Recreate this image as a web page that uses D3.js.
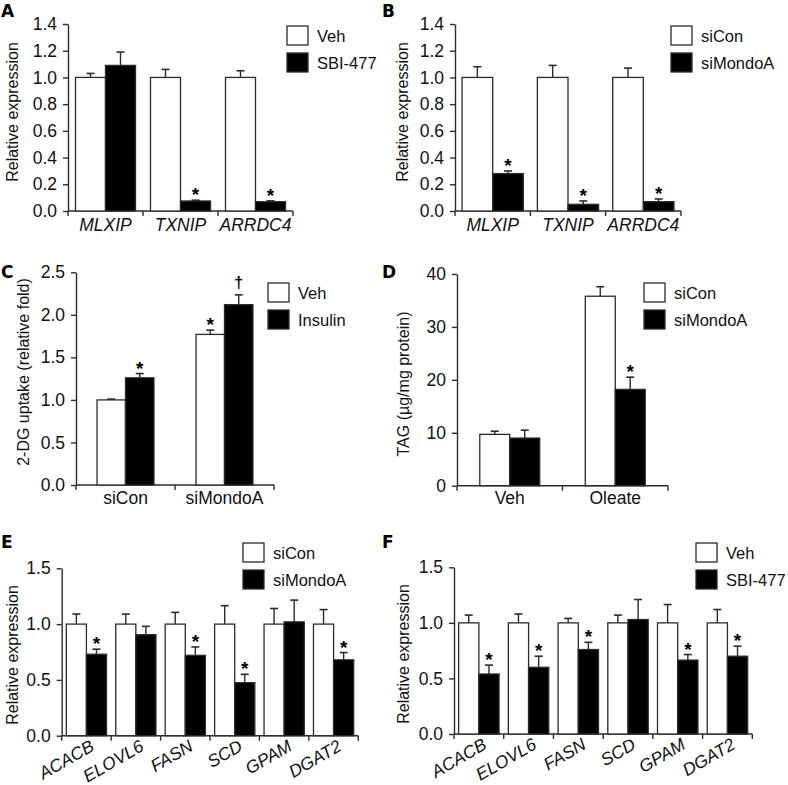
<!DOCTYPE html>
<html>
<head>
<meta charset="utf-8">
<script src="https://cdn.jsdelivr.net/npm/d3@7"></script>
<style>
  html, body { margin: 0; padding: 0; background: #fff; }
  svg { display: block; font-family: "Liberation Sans", Arial, Helvetica, sans-serif; }
</style>
</head>
<body>
<svg id="chart" width="788" height="785"></svg>
<script>
// ---------------- DATA ----------------
// Panel A
const aCategories = ["MLXIP", "TXNIP", "ARRDC4"];
const aSeriesNames = ["Veh", "SBI-477"];
const aVeh = [1.0, 1.0, 1.0];
const aVehErr = [0.03, 0.06, 0.05];
const aSBI = [1.09, 0.075, 0.07];
const aSBIErr = [0.10, 0.006, 0.006];
const aSBIMarks = ["", "*", "*"];
const aTicks = [0, 0.2, 0.4, 0.6, 0.8, 1.0, 1.2, 1.4];

// Panel B
const bCategories = ["MLXIP", "TXNIP", "ARRDC4"];
const bSeriesNames = ["siCon", "siMondoA"];
const bSiCon = [1.0, 1.0, 1.0];
const bSiConErr = [0.08, 0.09, 0.07];
const bSiMondoA = [0.28, 0.05, 0.07];
const bSiMondoAErr = [0.02, 0.025, 0.02];
const bSiMondoAMarks = ["*", "*", "*"];
const bTicks = [0, 0.2, 0.4, 0.6, 0.8, 1.0, 1.2, 1.4];

// Panel C
const cCategories = ["siCon", "siMondoA"];
const cSeriesNames = ["Veh", "Insulin"];
const cVeh = [1.0, 1.77];
const cVehErr = [0.01, 0.05];
const cVehMarks = ["", "*"];
const cInsulin = [1.26, 2.12];
const cInsulinErr = [0.05, 0.115];
const cInsulinMarks = ["*", "\u2020"];
const cTicks = [0, 0.5, 1.0, 1.5, 2.0, 2.5];

// Panel D
const dCategories = ["Veh", "Oleate"];
const dSeriesNames = ["siCon", "siMondoA"];
const dSiCon = [9.7, 35.8];
const dSiConErr = [0.6, 1.8];
const dSiMondoA = [9.0, 18.2];
const dSiMondoAErr = [1.5, 2.3];
const dSiMondoAMarks = ["", "*"];
const dTicks = [0, 10, 20, 30, 40];

// Panel E
const eCategories = ["ACACB", "ELOVL6", "FASN", "SCD", "GPAM", "DGAT2"];
const eSeriesNames = ["siCon", "siMondoA"];
const eSiCon = [1.0, 1.0, 1.0, 1.0, 1.0, 1.0];
const eSiConErr = [0.09, 0.09, 0.105, 0.165, 0.14, 0.13];
const eSiMondoA = [0.73, 0.905, 0.72, 0.475, 1.02, 0.68];
const eSiMondoAErr = [0.045, 0.075, 0.075, 0.075, 0.195, 0.065];
const eSiMondoAMarks = ["*", "", "*", "*", "", "*"];
const eTicks = [0, 0.5, 1.0, 1.5];

// Panel F
const fCategories = ["ACACB", "ELOVL6", "FASN", "SCD", "GPAM", "DGAT2"];
const fSeriesNames = ["Veh", "SBI-477"];
const fVeh = [1.0, 1.0, 1.0, 1.0, 1.0, 1.0];
const fVehErr = [0.07, 0.08, 0.04, 0.07, 0.165, 0.12];
const fSBI = [0.54, 0.60, 0.76, 1.03, 0.665, 0.70];
const fSBIErr = [0.08, 0.10, 0.065, 0.18, 0.05, 0.09];
const fSBIMarks = ["*", "*", "*", "", "*", "*"];
const fTicks = [0, 0.5, 1.0, 1.5];

// ---------------- DRAWING ----------------
const svg = d3.select("#chart");
const INK = "#2b2b2b";
const FONT = '"Liberation Sans", Arial, Helvetica, sans-serif';

function drawPanel(p) {
  const g = svg.append("g").style("font-family", FONT);
  const y = d3.scaleLinear().domain(p.domain).range([p.yBot, p.yTop]);
  const x = d3.scaleBand().domain(p.categories).range([p.x0, p.x1]).padding(0);
  const xs = d3.scaleBand().domain(p.series.map(s => s.name))
    .range([0, x.bandwidth()]).paddingInner(0).paddingOuter(p.outer);

  // y axis
  const yAxis = d3.axisLeft(y).tickValues(p.ticks).tickFormat(d3.format(p.fmt))
    .tickSize(5).tickSizeOuter(0).tickPadding(6);
  const ya = g.append("g").attr("transform", `translate(${p.x0},0)`).call(yAxis);
  ya.attr("font-family", null).attr("font-size", null);
  ya.select(".domain").attr("stroke", INK).attr("stroke-width", 1.4);
  ya.selectAll(".tick line").attr("stroke", INK).attr("stroke-width", 1.4);
  ya.selectAll(".tick text").attr("fill", "#111").style("font-size", p.tickSize + "px")
    .style("font-family", FONT);

  // x axis line with ticks at category boundaries
  g.append("line").attr("x1", p.x0).attr("x2", p.x1).attr("y1", p.yBot).attr("y2", p.yBot)
    .attr("stroke", INK).attr("stroke-width", 1.4);
  const bounds = p.categories.map(c => x(c)).concat([p.x1]);
  g.selectAll(".xb").data(bounds).enter().append("line")
    .attr("x1", d => d).attr("x2", d => d).attr("y1", p.yBot).attr("y2", p.yBot + 5)
    .attr("stroke", INK).attr("stroke-width", 1.4);

  // bars
  p.series.forEach(s => {
    const sg = g.append("g");
    sg.selectAll("rect").data(s.values).enter().append("rect")
      .attr("x", (d, i) => x(p.categories[i]) + xs(s.name))
      .attr("y", d => y(d))
      .attr("width", xs.bandwidth())
      .attr("height", d => p.yBot - y(d))
      .attr("fill", s.fill).attr("stroke", INK).attr("stroke-width", 1.3);
    // error bars
    s.values.forEach((v, i) => {
      const cx = x(p.categories[i]) + xs(s.name) + xs.bandwidth() / 2;
      const top = y(v + s.errors[i]);
      sg.append("line").attr("x1", cx).attr("x2", cx).attr("y1", y(v)).attr("y2", top)
        .attr("stroke", INK).attr("stroke-width", 1.4);
      sg.append("line").attr("x1", cx - 4).attr("x2", cx + 4).attr("y1", top).attr("y2", top)
        .attr("stroke", INK).attr("stroke-width", 1.6);
      const m = s.marks ? s.marks[i] : "";
      if (m) {
        sg.append("text").attr("x", cx).attr("y", m === "*" ? top + 1 : top - 7)
          .attr("text-anchor", "middle").attr("fill", "#000")
          .style("font-size", (m === "*" ? 19 : 16) + "px").style("font-weight", "bold")
          .text(m);
      }
    });
  });

  // x labels
  p.categories.forEach(c => {
    const cx = x(c) + x.bandwidth() / 2;
    if (p.rotate) {
      g.append("text")
        .attr("transform", `translate(${cx + 9},${p.yBot + 14}) rotate(-30)`)
        .attr("text-anchor", "end").attr("fill", "#111")
        .style("font-size", p.xlabSize + "px").style("font-style", p.italic ? "italic" : "normal")
        .text(c);
    } else {
      g.append("text").attr("x", cx).attr("y", p.yBot + p.xlabDy)
        .attr("text-anchor", "middle").attr("fill", "#111")
        .style("font-size", p.xlabSize + "px").style("font-style", p.italic ? "italic" : "normal")
        .text(c);
    }
  });

  // y title
  g.append("text")
    .attr("transform", `translate(${p.ytx},${p.yty}) rotate(-90)`)
    .attr("text-anchor", "middle").attr("fill", "#111")
    .style("font-size", "16px").text(p.ytitle);

  // legend
  p.series.forEach((s, i) => {
    const ly = p.ly + i * 27;
    g.append("rect").attr("x", p.lx).attr("y", ly).attr("width", 21).attr("height", 19)
      .attr("fill", s.fill).attr("stroke", INK).attr("stroke-width", 1.3);
    g.append("text").attr("x", p.lx + 30).attr("y", ly + 16).attr("fill", "#111")
      .style("font-size", "16.5px").text(s.name);
  });

  // panel letter
  g.append("text").attr("x", p.labx).attr("y", p.laby).attr("fill", "#000")
    .style("font-size", "17px").style("font-weight", "900")
    .style("font-family", '"DejaVu Sans", "Liberation Sans", Arial, sans-serif')
    .text(p.letter);
}

drawPanel({
  letter: "A", labx: 1, laby: 17,
  x0: 68, x1: 293, yTop: 24, yBot: 211, domain: [0, 1.4], ticks: aTicks, fmt: ".1f",
  categories: aCategories, outer: 0.25, italic: true, xlabSize: 17.5, xlabDy: 20, tickSize: 17.5,
  series: [
    { name: aSeriesNames[0], values: aVeh, errors: aVehErr, fill: "#fff" },
    { name: aSeriesNames[1], values: aSBI, errors: aSBIErr, marks: aSBIMarks, fill: "#000" }
  ],
  ytitle: "Relative expression", ytx: 18, yty: 112, lx: 287, ly: 26
});

drawPanel({
  letter: "B", labx: 382, laby: 17,
  x0: 455, x1: 681, yTop: 24, yBot: 211, domain: [0, 1.4], ticks: bTicks, fmt: ".1f",
  categories: bCategories, outer: 0.23, italic: true, xlabSize: 17.5, xlabDy: 20, tickSize: 17.5,
  series: [
    { name: bSeriesNames[0], values: bSiCon, errors: bSiConErr, fill: "#fff" },
    { name: bSeriesNames[1], values: bSiMondoA, errors: bSiMondoAErr, marks: bSiMondoAMarks, fill: "#000" }
  ],
  ytitle: "Relative expression", ytx: 408, yty: 112, lx: 671, ly: 26
});

drawPanel({
  letter: "C", labx: 1, laby: 278,
  x0: 76, x1: 274, yTop: 272.3, yBot: 485, domain: [0, 2.5], ticks: cTicks, fmt: ".1f",
  categories: cCategories, outer: 0.74, italic: false, xlabSize: 17.5, xlabDy: 19, tickSize: 17.5,
  series: [
    { name: cSeriesNames[0], values: cVeh, errors: cVehErr, marks: cVehMarks, fill: "#fff" },
    { name: cSeriesNames[1], values: cInsulin, errors: cInsulinErr, marks: cInsulinMarks, fill: "#000" }
  ],
  ytitle: "2-DG uptake (relative fold)", ytx: 29, yty: 372, lx: 268, ly: 283
});

drawPanel({
  letter: "D", labx: 382, laby: 278,
  x0: 457, x1: 668, yTop: 274, yBot: 485.7, domain: [0, 40], ticks: dTicks, fmt: "d",
  categories: dCategories, outer: 0.76, italic: false, xlabSize: 17.5, xlabDy: 18, tickSize: 17.5,
  series: [
    { name: dSeriesNames[0], values: dSiCon, errors: dSiConErr, fill: "#fff" },
    { name: dSeriesNames[1], values: dSiMondoA, errors: dSiMondoAErr, marks: dSiMondoAMarks, fill: "#000" }
  ],
  ytitle: "TAG (\u00b5g/mg protein)", ytx: 409, yty: 384, lx: 644, ly: 283
});

drawPanel({
  letter: "E", labx: 1, laby: 548,
  x0: 61.7, x1: 358.3, yTop: 568.3, yBot: 735.7, domain: [0, 1.5], ticks: eTicks, fmt: ".1f",
  categories: eCategories, outer: 0.23, italic: true, rotate: true, xlabSize: 17.5, tickSize: 17.5,
  series: [
    { name: eSeriesNames[0], values: eSiCon, errors: eSiConErr, fill: "#fff" },
    { name: eSeriesNames[1], values: eSiMondoA, errors: eSiMondoAErr, marks: eSiMondoAMarks, fill: "#000" }
  ],
  ytitle: "Relative expression", ytx: 18, yty: 655, lx: 243, ly: 543
});

drawPanel({
  letter: "F", labx: 382, laby: 548,
  x0: 454, x1: 752.3, yTop: 567.3, yBot: 734, domain: [0, 1.5], ticks: fTicks, fmt: ".1f",
  categories: fCategories, outer: 0.23, italic: true, rotate: true, xlabSize: 17.5, tickSize: 17.5,
  series: [
    { name: fSeriesNames[0], values: fVeh, errors: fVehErr, fill: "#fff" },
    { name: fSeriesNames[1], values: fSBI, errors: fSBIErr, marks: fSBIMarks, fill: "#000" }
  ],
  ytitle: "Relative expression", ytx: 409, yty: 654, lx: 696, ly: 543
});
</script>
</body>
</html>
